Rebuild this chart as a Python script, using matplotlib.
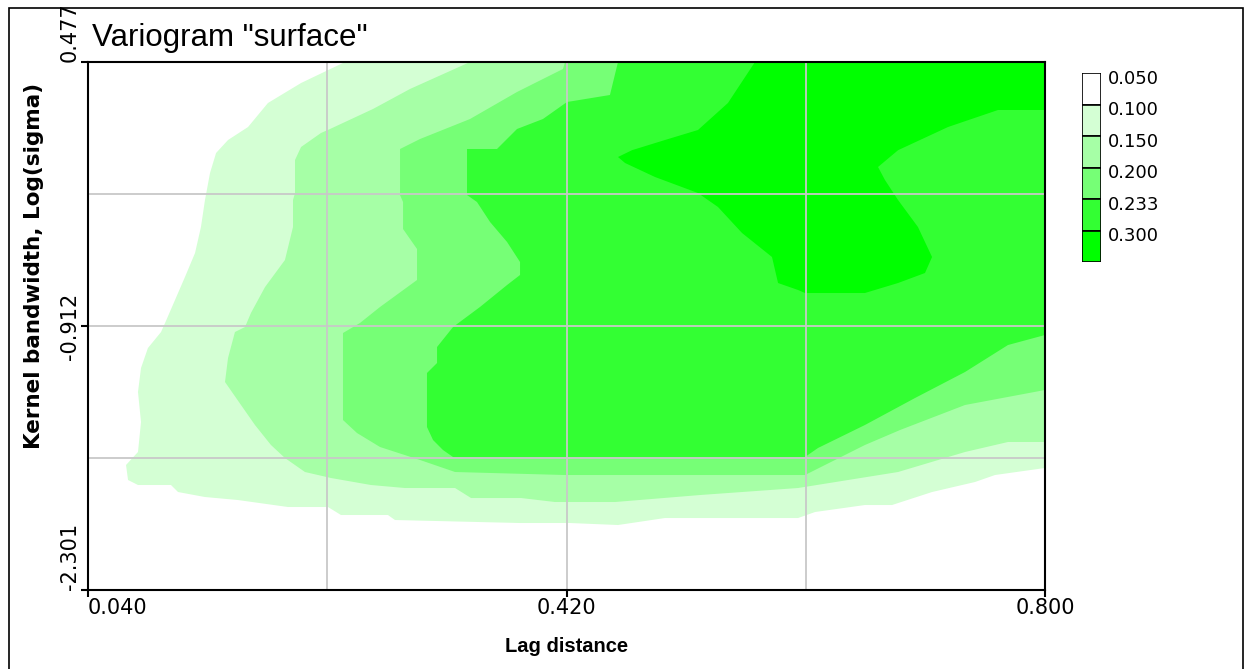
import numpy as np
import matplotlib.pyplot as plt
from matplotlib.patches import Rectangle

# contour classes of the variogram surface
levels = [0.050, 0.100, 0.150, 0.200, 0.233, 0.300]
level_colors = ['#ffffff', '#d4ffd4', '#a6ffa6', '#76ff76', '#33ff33', '#00ff00']

x_ticks = [0.040, 0.420, 0.800]
y_ticks = [-2.301, -0.912, 0.477]
x_grid = [0.230, 0.610]
y_grid = [-1.6065, -0.2175]

# iso-lines: region where gamma >= level
# x = lag distance, y = log(sigma)
c100_x = [0.2441, 0.800, 0.800, 0.7603, 0.7444, 0.7103, 0.6785, 0.6570, 0.6174,
          0.6039, 0.4982, 0.4609, 0.4228, 0.3831, 0.2838, 0.2782, 0.2409, 0.2306,
          0.1988, 0.1591, 0.1329, 0.1115, 0.1059, 0.0797, 0.0718, 0.0702, 0.0797,
          0.0821, 0.0797, 0.0821, 0.0876, 0.0980, 0.1012, 0.1091, 0.1170, 0.1250,
          0.1297, 0.1329, 0.1369, 0.1417, 0.1512, 0.1671, 0.1829, 0.2092]
c100_y = [0.477, 0.477, -1.6591, -1.6960, -1.7328, -1.7855, -1.8539, -1.8539, -1.8907,
          -1.9223, -1.9223, -1.9591, -1.9486, -1.9486, -1.9328, -1.9065, -1.9065, -1.8644,
          -1.8644, -1.8276, -1.8118, -1.7855, -1.7486, -1.7486, -1.7223, -1.6433, -1.5749,
          -1.4171, -1.2593, -1.1330, -1.0278, -0.9436, -0.8962, -0.7752, -0.6542, -0.5280,
          -0.3911, -0.2491, -0.1070, -0.0018, 0.0666, 0.1350, 0.2613, 0.3665]

c150_x = [0.3434, 0.800, 0.800, 0.7706, 0.7365, 0.6833, 0.6039, 0.5260, 0.4585,
          0.4109, 0.3839, 0.3442, 0.3315, 0.2917, 0.2647, 0.2330, 0.2123, 0.1964,
          0.1853, 0.1726, 0.1615, 0.1488, 0.1512, 0.1567, 0.1647, 0.1694, 0.1806,
          0.1964, 0.2028, 0.2028, 0.2044, 0.2044, 0.2092, 0.2250, 0.2322, 0.2663, 0.2957]
c150_y = [0.477, 0.477, -1.5223, -1.5223, -1.5749, -1.6802, -1.7644, -1.8013, -1.8381,
          -1.8381, -1.8171, -1.8171, -1.7644, -1.7644, -1.7486, -1.7118, -1.6802, -1.6065,
          -1.5381, -1.4329, -1.3276, -1.2066, -1.0804, -0.9436, -0.9173, -0.8436, -0.7068,
          -0.5648, -0.3911, -0.2491, -0.2123, -0.0386, 0.0298, 0.1034, 0.1245, 0.2297, 0.3350]

c200_x = [0.4188, 0.800, 0.800, 0.7365, 0.6849, 0.6570, 0.6094, 0.4188, 0.3315,
          0.3037, 0.2719, 0.2536, 0.2425, 0.2425, 0.2560, 0.2719, 0.3013, 0.3013,
          0.2902, 0.2902, 0.2878, 0.2878, 0.3037, 0.3434, 0.3807, 0.4013, 0.4172]
c200_y = [0.477, 0.477, -1.2487, -1.3276, -1.4592, -1.5381, -1.6960, -1.6960, -1.6802,
          -1.6170, -1.5486, -1.4749, -1.4066, -0.9489, -0.8962, -0.8120, -0.6700, -0.5069,
          -0.4017, -0.2596, -0.2228, 0.0193, 0.0719, 0.1771, 0.3192, 0.3876, 0.4402]

c233_x = [0.4609, 0.800, 0.800, 0.7706, 0.7365, 0.6968, 0.6570, 0.6197, 0.6094,
          0.3299, 0.3219, 0.3140, 0.3092, 0.3092, 0.3172, 0.3172, 0.3299, 0.3513,
          0.3728, 0.3831, 0.3831, 0.3728, 0.3593, 0.3489, 0.3410, 0.3410, 0.3648,
          0.3807, 0.4013, 0.4204, 0.4545]
c233_y = [0.477, 0.477, -0.9594, -1.0120, -1.1540, -1.2908, -1.4329, -1.5539, -1.6013,
          -1.6013, -1.5644, -1.5118, -1.4434, -1.1593, -1.1067, -1.0225, -0.9173, -0.8120,
          -0.6963, -0.6437, -0.5753, -0.4700, -0.3648, -0.2596, -0.2228, 0.0193, 0.0193,
          0.1245, 0.1771, 0.2665, 0.3034]

c300_x = [0.5697, 0.800, 0.800, 0.7627, 0.7230, 0.6833, 0.6674, 0.6729, 0.6833,
          0.6991, 0.7103, 0.7047, 0.6833, 0.6570, 0.6094, 0.6039, 0.5880, 0.5832,
          0.5594, 0.5403, 0.5244, 0.4903, 0.4665, 0.4609, 0.4720, 0.4982, 0.5244, 0.5482]
c300_y = [0.477, 0.477, 0.2245, 0.2245, 0.1350, 0.0130, -0.0754, -0.1438, -0.2491,
          -0.3911, -0.5490, -0.6331, -0.6858, -0.7384, -0.7384, -0.7226, -0.6858, -0.5490,
          -0.4227, -0.2859, -0.2123, -0.1281, -0.0544, -0.0228, 0.0130, 0.0666, 0.1192, 0.2613]

contours = [(c100_x, c100_y), (c150_x, c150_y), (c200_x, c200_y),
            (c233_x, c233_y), (c300_x, c300_y)]

W, H = 1253, 669
fig = plt.figure(figsize=(W / 100, H / 100), dpi=100)

ax = fig.add_axes([88 / W, 1 - 590 / H, 957 / W, 528 / H])
for (cx, cy), col in zip(contours, level_colors[1:]):
    ax.fill(cx, cy, color=col, lw=0, zorder=1)

ax.set_xlim(x_ticks[0], x_ticks[-1])
ax.set_ylim(y_ticks[0], y_ticks[-1])
ax.set_xticks(x_ticks)
ax.set_xticks(x_grid, minor=True)
ax.set_yticks(y_ticks)
ax.set_yticks(y_grid, minor=True)
ax.set_xticklabels([f'{v:.3f}' for v in x_ticks], fontsize=15)
ax.set_yticklabels([f'{v:.3f}' for v in y_ticks], fontsize=15, rotation=90)
ax.get_xticklabels()[0].set_ha('left')
ylabs = ax.get_yticklabels()
ylabs[0].set_va('bottom')
ylabs[1].set_va('center')
ylabs[2].set_va('bottom')

ax.grid(True, which='both', color='#c8c8c8', lw=1.3)
ax.set_axisbelow(False)
ax.tick_params(which='minor', length=0)
ax.tick_params(which='major', length=5, width=1.5, color='black', pad=1)
for s in ax.spines.values():
    s.set_linewidth(1.5)
    s.set_color('black')
    s.set_zorder(3)

# legend boxes
lax = fig.add_axes([1082 / W, 1 - 262 / H, 19 / W, 189 / H])
for i, col in enumerate(level_colors):
    lax.bar(0.5, 1, bottom=i, width=1, color=col, edgecolor='black', lw=1.2)
lax.set_xlim(0, 1)
lax.set_ylim(len(levels), 0)
lax.set_xticks([])
lax.yaxis.tick_right()
lax.set_yticks(np.arange(len(levels)) + 0.12)
lax.set_yticklabels([f'{v:.3f}' for v in levels], fontsize=13)
lax.tick_params(length=0, pad=5)
for s in lax.spines.values():
    s.set_visible(False)

fig.text(92 / W, 1 - 46 / H, 'Variogram "surface"', fontsize=22.5,
         family='Liberation Sans', va='baseline')
fig.text(34 / W, 1 - 266 / H, 'Kernel bandwidth, Log(sigma)', rotation=90,
         ha='center', va='center', fontsize=15.5, fontweight='bold')
fig.text(567 / W, 1 - 646 / H, 'Lag distance', ha='center', va='center',
         fontsize=14.5, fontweight='bold', family='Liberation Sans')

fig.patches.append(Rectangle((9 / W, -0.05), (1243 - 9) / W, 1 - 8 / H + 0.05,
                             transform=fig.transFigure, fill=False,
                             edgecolor='black', lw=1.2))

fig.savefig('out.png', dpi=100)
